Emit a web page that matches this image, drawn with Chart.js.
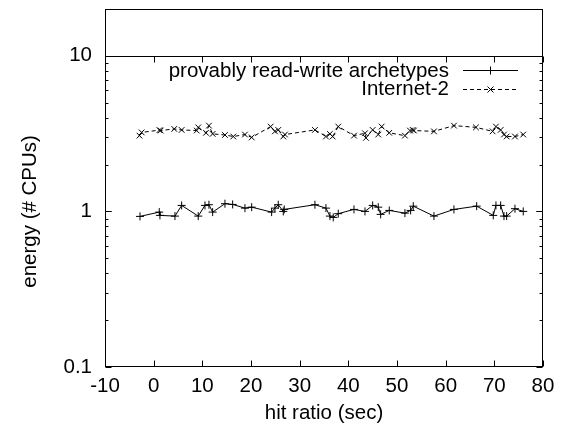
<!DOCTYPE html>
<html>
<head>
<meta charset="utf-8">
<script src="https://cdn.jsdelivr.net/npm/chart.js@4.4.1/dist/chart.umd.min.js"></script>
<style>
  html, body { margin: 0; padding: 0; background: #fff; }
  #wrap { width: 566px; height: 432px; }
</style>
</head>
<body>
<div id="wrap"><canvas id="c" width="566" height="432"></canvas></div>
<script>
// ---- data ----
const rwX = [-2.81, 1.15, 1.29, 4.38, 5.75, 9.16, 10.54, 11.36, 12.12, 14.65, 16.23, 18.76, 20.14, 24.24, 24.92, 25.60, 26.63, 26.83, 33.14, 35.40, 36.22, 36.90, 37.93, 41.16, 43.42, 45.00, 46.15, 46.64, 48.41, 51.63, 52.80, 53.34, 57.59, 61.70, 66.37, 69.78, 70.33, 71.30, 71.98, 72.53, 74.24, 75.94];
const rwY = [0.929, 0.990, 0.943, 0.933, 1.093, 0.933, 1.093, 1.104, 0.990, 1.121, 1.109, 1.050, 1.065, 0.990, 1.050, 1.104, 1.000, 1.030, 1.104, 1.050, 0.933, 0.915, 0.967, 1.030, 1.000, 1.093, 1.065, 0.957, 1.015, 0.975, 1.015, 1.081, 0.933, 1.030, 1.081, 0.943, 1.093, 1.093, 0.933, 0.933, 1.041, 1.000];
const netX = [-2.92, -2.47, 1.19, 1.44, 4.23, 5.75, 8.84, 9.16, 10.75, 11.36, 12.12, 14.65, 16.36, 18.76, 20.14, 24.04, 24.92, 25.60, 26.63, 26.98, 33.14, 35.40, 36.22, 36.78, 37.93, 41.16, 43.42, 43.62, 45.00, 46.15, 46.85, 48.41, 51.63, 52.66, 53.22, 53.48, 57.59, 61.70, 66.22, 69.65, 70.33, 71.30, 71.98, 72.53, 74.24, 75.94];
const netY = [3.07, 3.22, 3.33, 3.31, 3.39, 3.34, 3.31, 3.47, 3.20, 3.56, 3.15, 3.10, 3.03, 3.12, 2.99, 3.51, 3.27, 3.34, 3.03, 3.12, 3.34, 3.03, 3.15, 3.03, 3.51, 3.07, 3.18, 2.97, 3.34, 3.12, 3.51, 3.20, 3.07, 3.31, 3.34, 3.31, 3.27, 3.56, 3.47, 3.27, 3.51, 3.34, 3.12, 3.03, 3.03, 3.12];
const seriesNames = ["provably read-write archetypes", "Internet-2"];
const xTicks = [-10, 0, 10, 20, 30, 40, 50, 60, 70, 80];
const yTicks = [0.1, 1, 10];
const xTitle = "hit ratio (sec)";
const yTitle = "energy (# CPUs)";

const FONT = "'Liberation Sans', Arial, Helvetica, sans-serif";
const FS = 20.5;

function pts(xs, ys) { return xs.map((x, i) => ({x: x, y: ys[i]})); }

const framePlugin = {
  id: 'frame',
  afterDraw(chart) {
    const {ctx, chartArea: a, scales: {x, y}} = chart;
    ctx.save();
    ctx.strokeStyle = '#000';
    ctx.lineWidth = 1;
    ctx.strokeRect(Math.round(a.left) + 0.5, Math.round(a.top) + 0.5, Math.round(a.right - a.left) - 1, Math.round(a.bottom - a.top) - 1);
    const y10 = Math.round(y.getPixelForValue(10)) + 0.5;
    ctx.beginPath();
    ctx.moveTo(a.left, y10); ctx.lineTo(a.right, y10);
    const yb = Math.round(a.bottom) - 0.5;
    xTicks.forEach(v => {
      const px = Math.round(x.getPixelForValue(v)) + 0.5;
      ctx.moveTo(px, yb); ctx.lineTo(px, yb - 6);
      ctx.moveTo(px, y10); ctx.lineTo(px, y10 + 6);
    });
    const xl = Math.round(a.left) + 0.5, xr = Math.round(a.right) - 0.5;
    for (let d = 0.1; d < 10; d *= 10) {
      for (let m = 1; m <= 10; m++) {
        const v = d * m;
        if (v > 10.0001) break;
        const py = Math.round(y.getPixelForValue(v)) + 0.5;
        const len = (m === 1 || m === 10) ? 6 : 3;
        ctx.moveTo(xl, py); ctx.lineTo(xl + len, py);
        ctx.moveTo(xr, py); ctx.lineTo(xr - len, py);
      }
    }
    ctx.stroke();
    ctx.font = FS + 'px ' + FONT;
    ctx.fillStyle = '#000';
    // y-axis title, centred on the 0.1..10 plot range
    const yMid = (y.getPixelForValue(0.1) + y.getPixelForValue(10)) / 2;
    ctx.save();
    ctx.translate(30, yMid);
    ctx.rotate(-Math.PI / 2);
    ctx.textAlign = 'center';
    ctx.textBaseline = 'middle';
    ctx.fillText(yTitle, 0, 0);
    ctx.restore();
    // legend
    ctx.textAlign = 'right';
    ctx.textBaseline = 'middle';
    const rows = [70, 88.5];
    const sx0 = 463, sx1 = 518;
    chart.data.datasets.forEach((ds, i) => {
      const ry = Math.round(rows[i]) + 0.5;
      ctx.fillText(seriesNames[i], 449, rows[i] + 1);
      ctx.beginPath();
      ctx.setLineDash(ds.borderDash || []);
      ctx.moveTo(sx0, ry); ctx.lineTo(sx1, ry);
      ctx.stroke();
      ctx.setLineDash([]);
      const cx = (sx0 + sx1) / 2, r = 4;
      ctx.beginPath();
      if (ds.pointStyle === 'cross') {
        ctx.moveTo(cx - r, ry); ctx.lineTo(cx + r, ry);
        ctx.moveTo(cx, ry - r); ctx.lineTo(cx, ry + r);
      } else {
        ctx.moveTo(cx - r*0.75, ry - r*0.75); ctx.lineTo(cx + r*0.75, ry + r*0.75);
        ctx.moveTo(cx - r*0.75, ry + r*0.75); ctx.lineTo(cx + r*0.75, ry - r*0.75);
      }
      ctx.stroke();
    });
    ctx.restore();
  }
};

new Chart(document.getElementById('c'), {
  type: 'scatter',
  data: {
    datasets: [
      {
        label: seriesNames[0],
        data: pts(rwX, rwY),
        showLine: true,
        borderColor: '#000',
        backgroundColor: '#000',
        borderWidth: 1,
        pointStyle: 'cross',
        pointRadius: 4,
        pointBorderWidth: 1,
        pointBorderColor: '#000',
        tension: 0
      },
      {
        label: seriesNames[1],
        data: pts(netX, netY),
        showLine: true,
        borderColor: '#000',
        backgroundColor: '#000',
        borderWidth: 1,
        borderDash: [4, 3],
        pointStyle: 'crossRot',
        pointRadius: 4,
        pointBorderWidth: 1,
        pointBorderColor: '#000',
        tension: 0
      }
    ]
  },
  options: {
    responsive: false,
    animation: false,
    events: [],
    layout: { padding: { left: 0, right: 23, top: 9, bottom: 0 } },
    plugins: { legend: { display: false }, tooltip: { enabled: false } },
    scales: {
      x: {
        type: 'linear',
        min: -10, max: 80,
        afterBuildTicks: s => { s.ticks = xTicks.map(v => ({value: v})); },
        afterFit: s => { s.height = 65; s.paddingLeft = 0; s.paddingRight = 0; },
        grid: { display: false, drawTicks: false },
        border: { display: false },
        ticks: { color: '#000', font: { family: FONT, size: FS }, padding: 7, maxRotation: 0, autoSkip: false, callback: v => String(v) },
        title: { display: true, text: xTitle, color: '#000', font: { family: FONT, size: FS }, padding: { top: 0, bottom: 6 } }
      },
      y: {
        type: 'logarithmic',
        min: 0.1, max: 20,
        afterBuildTicks: s => { s.ticks = yTicks.map(v => ({value: v})); },
        afterFit: s => { s.width = 105; s.paddingTop = 0; s.paddingBottom = 0; },
        grid: { display: false, drawTicks: false },
        border: { display: false },
        ticks: { color: '#000', font: { family: FONT, size: FS }, padding: 13, autoSkip: false, callback: v => String(v) },
        title: { display: false }
      }
    }
  },
  plugins: [framePlugin]
});
</script>
</body>
</html>
